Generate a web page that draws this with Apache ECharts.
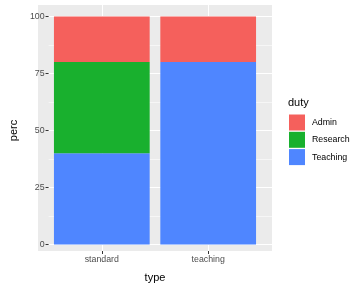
<!DOCTYPE html>
<html><head><meta charset="utf-8">
<script src="https://cdn.jsdelivr.net/npm/echarts@6/dist/echarts.min.js"></script>
<style>html,body{margin:0;padding:0;background:#fff}#c{width:360px;height:288px}</style>
</head><body><div id="c"></div>
<script>
const categories = ['standard', 'teaching'];
const teaching = [40, 80];
const research = [40, null];
const admin = [20, 20];
const legendOrder = ['Admin', 'Research', 'Teaching'];

const colors = {Admin: '#F5605C', Research: '#19B02E', Teaching: '#4F86FF'};
const W = 360, H = 288;
const gridL = 38, gridR = 88, gridT = 5, gridB = 32;
const xMin = 0.4, xMax = 2.6;
const unit = (W - gridL - gridR) / (xMax - xMin);
const barGridL = gridL + (1 - 0.5 - xMin) * unit;
const barGridR = gridR + (xMax - 2 - 0.5) * unit;
const barW = 0.9 * unit;
const yExp = 5, yTop = 100;
const unitY = (H - gridT - gridB) / (yTop + 2 * yExp);
const innerT = gridT + yExp * unitY, innerB = gridB + yExp * unitY;
const font = 'Liberation Sans, Arial, sans-serif';
const catPos = categories.map((c, i) => i + 1);

const chart = echarts.init(document.getElementById('c'), null, {renderer: 'canvas'});
chart.setOption({
  animation: false,
  title: {text: 'duty', left: 288, top: 97, padding: 0,
    textStyle: {fontFamily: font, fontSize: 11, fontWeight: 'normal', color: '#000'}},
  legend: {
    data: legendOrder, orient: 'vertical', left: 289, top: 114.5, padding: 0,
    icon: 'rect', itemWidth: 16, itemHeight: 16, itemGap: 1.3,
    textStyle: {fontFamily: font, fontSize: 8.8, color: '#000', padding: [0, 0, 0, 2]}
  },
  grid: [
    {left: gridL, right: gridR, top: gridT, bottom: gridB, show: true, backgroundColor: '#EBEBEB', borderWidth: 0},
    {left: gridL, right: gridR, top: innerT, bottom: innerB},
    {left: barGridL, right: barGridR, top: innerT, bottom: innerB}
  ],
  xAxis: [{
    gridIndex: 0, type: 'value', min: xMin, max: xMax,
    name: 'type', nameLocation: 'middle', nameGap: 21,
    nameTextStyle: {fontFamily: font, fontSize: 11, color: '#000'},
    axisLine: {show: false},
    axisTick: {show: true, length: 3, lineStyle: {color: '#333333', width: 1}, customValues: catPos},
    axisLabel: {customValues: catPos, margin: 4, fontFamily: font, fontSize: 8.8, color: '#4D4D4D',
      formatter: v => categories[Math.round(v) - 1]},
    splitLine: {show: true, lineStyle: {color: '#FFFFFF', width: 1.1}}
  }, {
    gridIndex: 1, type: 'value', min: xMin, max: xMax, show: false
  }, {
    gridIndex: 2, type: 'category', data: categories, show: false
  }],
  yAxis: [{
    gridIndex: 0, type: 'value', min: 0, max: 1, show: false
  }, {
    gridIndex: 1, type: 'value', min: 0, max: yTop, interval: 25,
    name: 'perc', nameLocation: 'middle', nameGap: 21, nameRotate: 90,
    nameTextStyle: {fontFamily: font, fontSize: 11, color: '#000'},
    axisLine: {show: false},
    axisTick: {show: true, length: 3, lineStyle: {color: '#333333', width: 1}},
    axisLabel: {margin: 4, fontFamily: font, fontSize: 8.8, color: '#4D4D4D'},
    splitLine: {show: true, lineStyle: {color: '#FFFFFF', width: 1.1}},
    minorTick: {show: false, splitNumber: 2},
    minorSplitLine: {show: true, lineStyle: {color: '#FFFFFF', width: 0.55}}
  }, {
    gridIndex: 2, type: 'value', min: 0, max: yTop, show: false
  }],
  series: [
    {name: 'Teaching', type: 'bar', stack: 's', xAxisIndex: 2, yAxisIndex: 2, data: teaching, barWidth: barW, itemStyle: {color: colors.Teaching}},
    {name: 'Research', type: 'bar', stack: 's', xAxisIndex: 2, yAxisIndex: 2, data: research, barWidth: barW, itemStyle: {color: colors.Research}},
    {name: 'Admin', type: 'bar', stack: 's', xAxisIndex: 2, yAxisIndex: 2, data: admin, barWidth: barW, itemStyle: {color: colors.Admin}}
  ]
});
</script></body></html>
